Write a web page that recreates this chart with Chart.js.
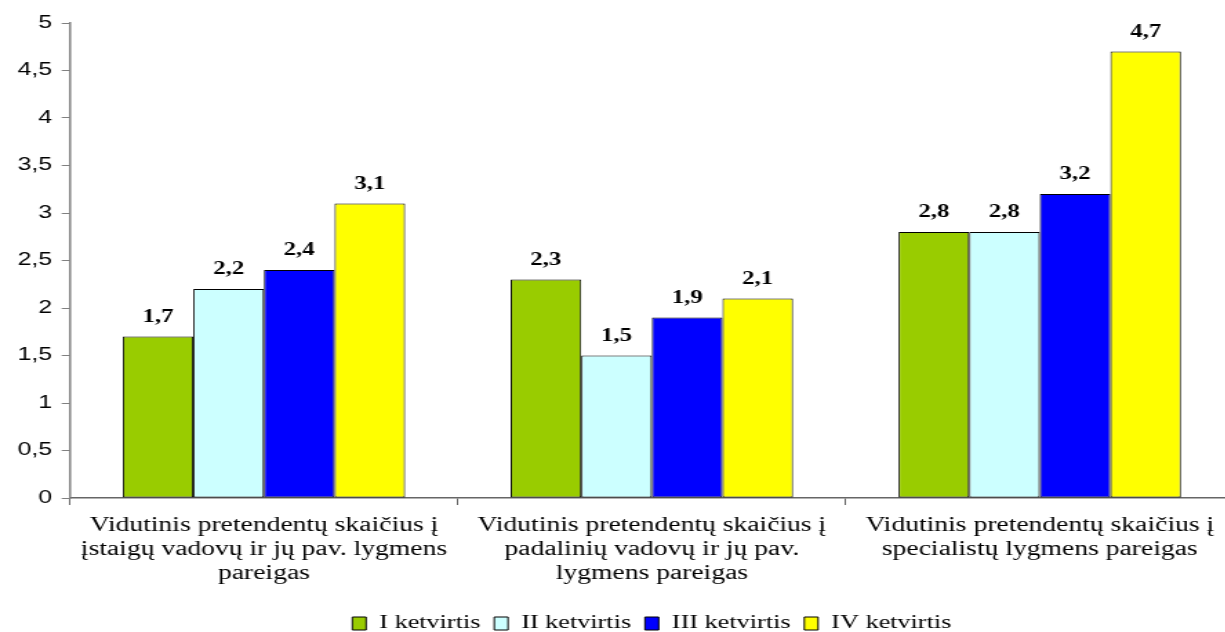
<!DOCTYPE html>
<html lang="lt">
<head>
<meta charset="utf-8">
<title>Vidutinis pretendentų skaičius</title>
<script src="https://cdn.jsdelivr.net/npm/chart.js@4.4.0/dist/chart.umd.min.js"></script>
<style>
    html, body { margin: 0; padding: 0; background: #fff; overflow: hidden; }
    /* the reference is stretched sideways, so the whole canvas is too */
    #wrap { width: 894px; height: 632px; transform: scaleX(1.38); transform-origin: 0 0; }
</style>
</head>
<body>
<div id="wrap"><canvas id="chart" width="894" height="632"></canvas></div>
<script>
'use strict';

// chart data

const categories = [
    ['Vidutinis pretendentų skaičius į', 'įstaigų vadovų ir jų pav. lygmens', 'pareigas'],
    ['Vidutinis pretendentų skaičius į', 'padalinių vadovų ir jų pav.', 'lygmens pareigas'],
    ['Vidutinis pretendentų skaičius į', 'specialistų lygmens pareigas']
]
const seriesNames = ['I ketvirtis', 'II ketvirtis', 'III ketvirtis', 'IV ketvirtis']
const quarter1 = [1.7, 2.3, 2.8]
const quarter2 = [2.2, 1.5, 2.8]
const quarter3 = [2.4, 1.9, 3.2]
const quarter4 = [3.1, 2.1, 4.7]
const seriesColors = ['#99cc00', '#ccffff', '#0000ff', '#ffff00']
const yTicks = [0, 0.5, 1, 1.5, 2, 2.5, 3, 3.5, 4, 4.5, 5]

const serif = '"Liberation Serif", "Times New Roman", serif'
const sans = '"Liberation Sans", Arial, sans-serif'

const withComma = value => String(value).replace('.', ',')

// value labels above every bar

const barValueLabels = {
    id: 'barValueLabels',
    afterDatasetsDraw(chart) {
        const ctx = chart.ctx
        ctx.save()
        ctx.font = `bold 18px ${serif}`
        ctx.fillStyle = '#000'
        ctx.textAlign = 'center'
        ctx.textBaseline = 'alphabetic'

        chart.data.datasets.forEach((dataset, i) => {
            chart.getDatasetMeta(i).data.forEach((bar, j) => {
                ctx.fillText(withComma(dataset.data[j]), bar.x, bar.y - 15)
            })
        })
        ctx.restore()
    }
}

Chart.defaults.font.family = serif
Chart.defaults.color = '#000'

const allSeries = [quarter1, quarter2, quarter3, quarter4]

new Chart(document.getElementById('chart'), {
    type: 'bar',
    data: {
        labels: categories,
        datasets: allSeries.map((values, i) => ({
            label: seriesNames[i],
            data: values,
            backgroundColor: seriesColors[i],
            borderColor: '#000',
            borderWidth: 1,
            borderSkipped: false,
            barPercentage: 1,
            categoryPercentage: 0.728
        }))
    },
    options: {
        responsive: false,
        animation: false,
        layout: {
            // negative bottom pulls the legend down towards the canvas edge
            padding: { top: 23, left: 0, right: 0, bottom: -11 }
        },
        plugins: {
            tooltip: { enabled: false },
            legend: {
                position: 'bottom',
                fullSize: false,
                labels: {
                    boxWidth: 10,
                    boxHeight: 13,
                    padding: 10,
                    font: { size: 19, family: serif },
                    color: '#000'
                }
            }
        },
        scales: {
            x: {
                grid: {
                    display: true,
                    drawOnChartArea: false,
                    drawTicks: true,
                    tickLength: 7,
                    color: '#666'
                },
                border: { color: '#666', width: 1.5 },
                ticks: {
                    font: { size: 20, family: serif, lineHeight: 1.2 },
                    color: '#000',
                    padding: 9,
                    maxRotation: 0,
                    autoSkip: false
                },
                afterFit(scale) {
                    scale.height = 106
                }
            },
            y: {
                min: 0,
                max: 5,
                afterBuildTicks(scale) {
                    scale.ticks = yTicks.map(value => ({ value }))
                },
                grid: {
                    display: true,
                    drawOnChartArea: false,
                    drawTicks: true,
                    tickLength: 6,
                    color: '#808080'
                },
                border: { color: '#808080', width: 1.5 },
                ticks: {
                    font: { size: 18, family: sans },
                    color: '#000',
                    padding: 7,
                    callback: value => withComma(value)
                },
                afterFit(scale) {
                    scale.width = 50.7
                }
            }
        }
    },
    plugins: [barValueLabels]
})
</script>
</body>
</html>
